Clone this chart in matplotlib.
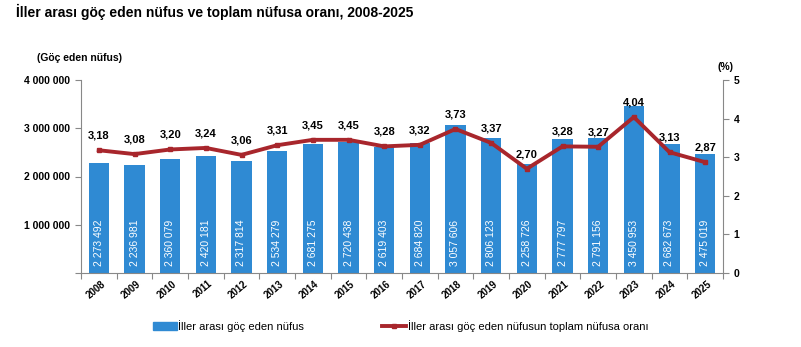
import matplotlib
matplotlib.use("Agg")
import matplotlib.pyplot as plt
from matplotlib.lines import Line2D
from matplotlib.patches import Patch

plt.rcParams['font.family'] = ['Liberation Sans', 'DejaVu Sans']

years = ["2008","2009","2010","2011","2012","2013","2014","2015","2016","2017",
         "2018","2019","2020","2021","2022","2023","2024","2025"]
migrants = [2273492, 2236981, 2360079, 2420181, 2317814, 2534279, 2681275, 2720438,
            2619403, 2684820, 3057606, 2806123, 2258726, 2777797, 2791156, 3450953,
            2682673, 2475019]
rates = [3.18, 3.08, 3.20, 3.24, 3.06, 3.31, 3.45, 3.45, 3.28, 3.32, 3.73, 3.37,
         2.70, 3.28, 3.27, 4.04, 3.13, 2.87]
left_ticks = [0, 1000000, 2000000, 3000000, 4000000]
right_ticks = [0, 1, 2, 3, 4, 5]

blue = "#2F8AD3"
red = "#A8262C"

def fmt(v):
    return f"{v:,}".replace(",", " ")

fig = plt.figure(figsize=(8.01, 3.47), dpi=100)
ax = fig.add_axes([81/801, 1-273/347, (723-81)/801, (273-80)/347])
x = list(range(len(years)))
ax.bar(x, migrants, width=0.57, color=blue, zorder=2)
ax.set_xlim(-0.5, len(years)-0.5)
ax.set_ylim(0, 4000000)
ax.set_yticks(left_ticks)
ax.set_yticklabels(["" if t == 0 else fmt(t) for t in left_ticks],
                   fontsize=7.5, fontweight='bold')
ax.set_xticks([i - 0.5 for i in range(len(years)+1)], minor=False)
ax.set_xticklabels([])
ax.tick_params(axis='x', length=4, color='#888888')
ax.tick_params(axis='y', length=4, color='#888888', pad=4)
for i, y in enumerate(years):
    ax.text(i + 0.05, -0.03, y, transform=ax.get_xaxis_transform(), rotation=40,
            ha='right', va='top', fontsize=7, fontweight='bold', rotation_mode='anchor')
for s in ['top', 'right']:
    ax.spines[s].set_visible(False)
ax.spines['left'].set_color('#888888')
ax.spines['bottom'].set_color('#888888')
for i, v in enumerate(migrants):
    ax.text(i, 150000, fmt(v), rotation=90, ha='center', va='bottom',
            color='white', fontsize=7.5)

ax2 = ax.twinx()
ax2.set_ylim(0, 5)
ax2.set_yticks(right_ticks)
ax2.set_yticklabels([str(t) for t in right_ticks], fontsize=7.5, fontweight='bold')
ax2.tick_params(axis='y', length=4, color='#888888')
for s in ['top', 'left', 'bottom']:
    ax2.spines[s].set_visible(False)
ax2.spines['right'].set_color('#888888')
ax2.plot(x, rates, color=red, linewidth=2.8, marker='s', markersize=3.5, zorder=3)
for i, r in enumerate(rates):
    ax2.annotate(f"{r:.2f}".replace(".", ","), (i, r), xytext=(0, 7),
                 textcoords='offset points', ha='center', va='bottom',
                 fontsize=8, fontweight='bold')

fig.text(16/801, 1-12/347, "İller arası göç eden nüfus ve toplam nüfusa oranı, 2008-2025",
         fontsize=10, fontweight='bold', va='center', ha='left')
fig.text(37/801, 1-58/347, "(Göç eden nüfus)", fontsize=7.5, fontweight='bold',
         va='center', ha='left')
fig.text(718/801, 1-67/347, "(%)", fontsize=7.5, fontweight='bold', va='center', ha='left')

handles = [Patch(color=blue), Line2D([0], [0], color=red, lw=2.8, marker='s', markersize=3.5)]
fig.legend(handles, ["İller arası göç eden nüfus", "İller arası göç eden nüfusun toplam nüfusa oranı"],
           loc='center', bbox_to_anchor=(0.5, 1-326/347), ncol=2, frameon=False,
           fontsize=8, handlelength=2.2, handletextpad=0.1, columnspacing=7)

fig.savefig("out.png", dpi=100)
